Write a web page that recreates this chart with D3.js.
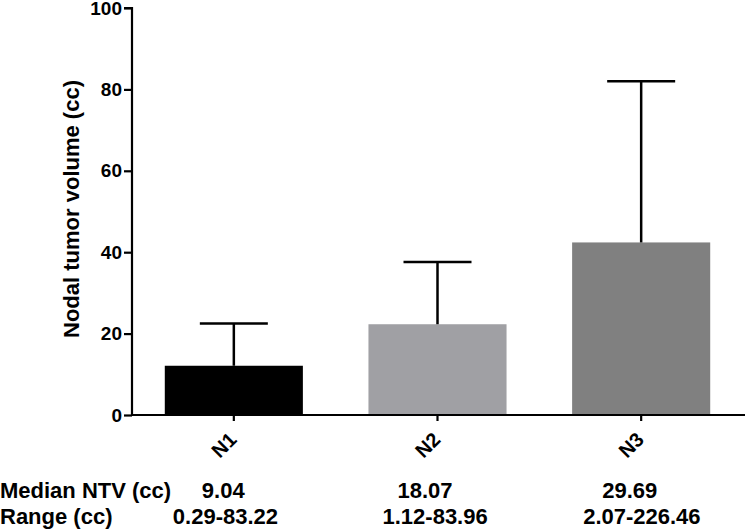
<!DOCTYPE html>
<html>
<head>
<meta charset="utf-8">
<script src="https://cdn.jsdelivr.net/npm/d3@7/dist/d3.min.js"></script>
<style>
  html, body { margin: 0; padding: 0; background: #fff; }
  svg { display: block; font-family: "Liberation Sans", Arial, sans-serif; font-weight: bold; }
</style>
</head>
<body>
<svg id="chart" width="745" height="531"></svg>
<script>
// ---- data ----
const categories = ["N1", "N2", "N3"];
const meanValues = [12.1, 22.3, 42.4];
const errorTop = [22.5, 37.6, 82.0];
const barColors = ["#000000", "#a0a0a4", "#808080"];
const yTicks = [0, 20, 40, 60, 80, 100];
const medianLabel = "Median NTV (cc)";
const rangeLabel = "Range (cc)";
const medians = ["9.04", "18.07", "29.69"];
const ranges = ["0.29-83.22", "1.12-83.96", "2.07-226.46"];
const yTitle = "Nodal tumor volume (cc)";

const svg = d3.select("#chart");
const x0 = 132, x1 = 743, yBottom = 415, yTop = 8;

const x = d3.scaleBand().domain(categories).range([x0, x1])
  .paddingInner(0.322).paddingOuter(0.161);
const y = d3.scaleLinear().domain([0, 100]).range([yBottom, yTop]);

// bars
svg.append("g").selectAll("rect").data(categories).join("rect")
  .attr("x", d => x(d))
  .attr("width", x.bandwidth())
  .attr("y", (d, i) => y(meanValues[i]))
  .attr("height", (d, i) => y(0) - y(meanValues[i]))
  .attr("fill", (d, i) => barColors[i]);

// error bars (upper only)
const capW = 68;
const eg = svg.append("g").attr("stroke", "#000").attr("stroke-width", 2.5);
categories.forEach((c, i) => {
  const cx = x(c) + x.bandwidth() / 2;
  eg.append("line").attr("x1", cx).attr("x2", cx)
    .attr("y1", y(meanValues[i])).attr("y2", y(errorTop[i]));
  eg.append("line").attr("x1", cx - capW / 2).attr("x2", cx + capW / 2)
    .attr("y1", y(errorTop[i])).attr("y2", y(errorTop[i]));
});

// y axis
const yAxis = d3.axisLeft(y).tickValues(yTicks).tickSize(8).tickPadding(2);
const gy = svg.append("g").attr("transform", `translate(${x0},0)`).call(yAxis);
gy.select(".domain").attr("stroke-width", 2.2).attr("d", `M-8,${yTop}H0V${yBottom}`);
gy.selectAll(".tick line").attr("stroke-width", 2.2);
gy.selectAll(".tick text").attr("font-size", 19).attr("font-weight", "bold")
  .attr("font-family", "Liberation Sans, Arial, sans-serif").attr("fill", "#000")
  .attr("dy", (d) => d === 100 ? "0.36em" : "0.32em");

// x axis
const xAxis = d3.axisBottom(x).tickSize(6).tickFormat(() => "");
const gx = svg.append("g").attr("transform", `translate(0,${yBottom})`).call(xAxis);
gx.select(".domain").attr("stroke-width", 2.2).attr("d", `M${x0},0H745`);
gx.selectAll(".tick line").attr("stroke-width", 2.2);
gx.selectAll(".tick").append("text")
  .attr("transform", "translate(4,26) rotate(-45)")
  .attr("text-anchor", "end")
  .attr("font-size", 20).attr("font-weight", "bold").attr("fill", "#000")
  .attr("font-family", "Liberation Sans, Arial, sans-serif")
  .text(d => d);

// y title
svg.append("text")
  .attr("transform", "translate(79,209) rotate(-90)")
  .attr("text-anchor", "middle")
  .attr("font-size", 22)
  .text(yTitle);

// bottom table
svg.append("text").attr("x", 0).attr("y", 498).attr("font-size", 22).text(medianLabel);
svg.append("text").attr("x", 0).attr("y", 524).attr("font-size", 22).text(rangeLabel);
const medOffsets = [-32, -40, -39];
const rngOffsets = [-61, -55, -58];
categories.forEach((c, i) => {
  const cx = x(c) + x.bandwidth() / 2;
  svg.append("text").attr("x", cx + medOffsets[i]).attr("y", 498).attr("font-size", 22).text(medians[i]);
  svg.append("text").attr("x", cx + rngOffsets[i]).attr("y", 524).attr("font-size", 22).text(ranges[i]);
});
</script>
</body>
</html>
